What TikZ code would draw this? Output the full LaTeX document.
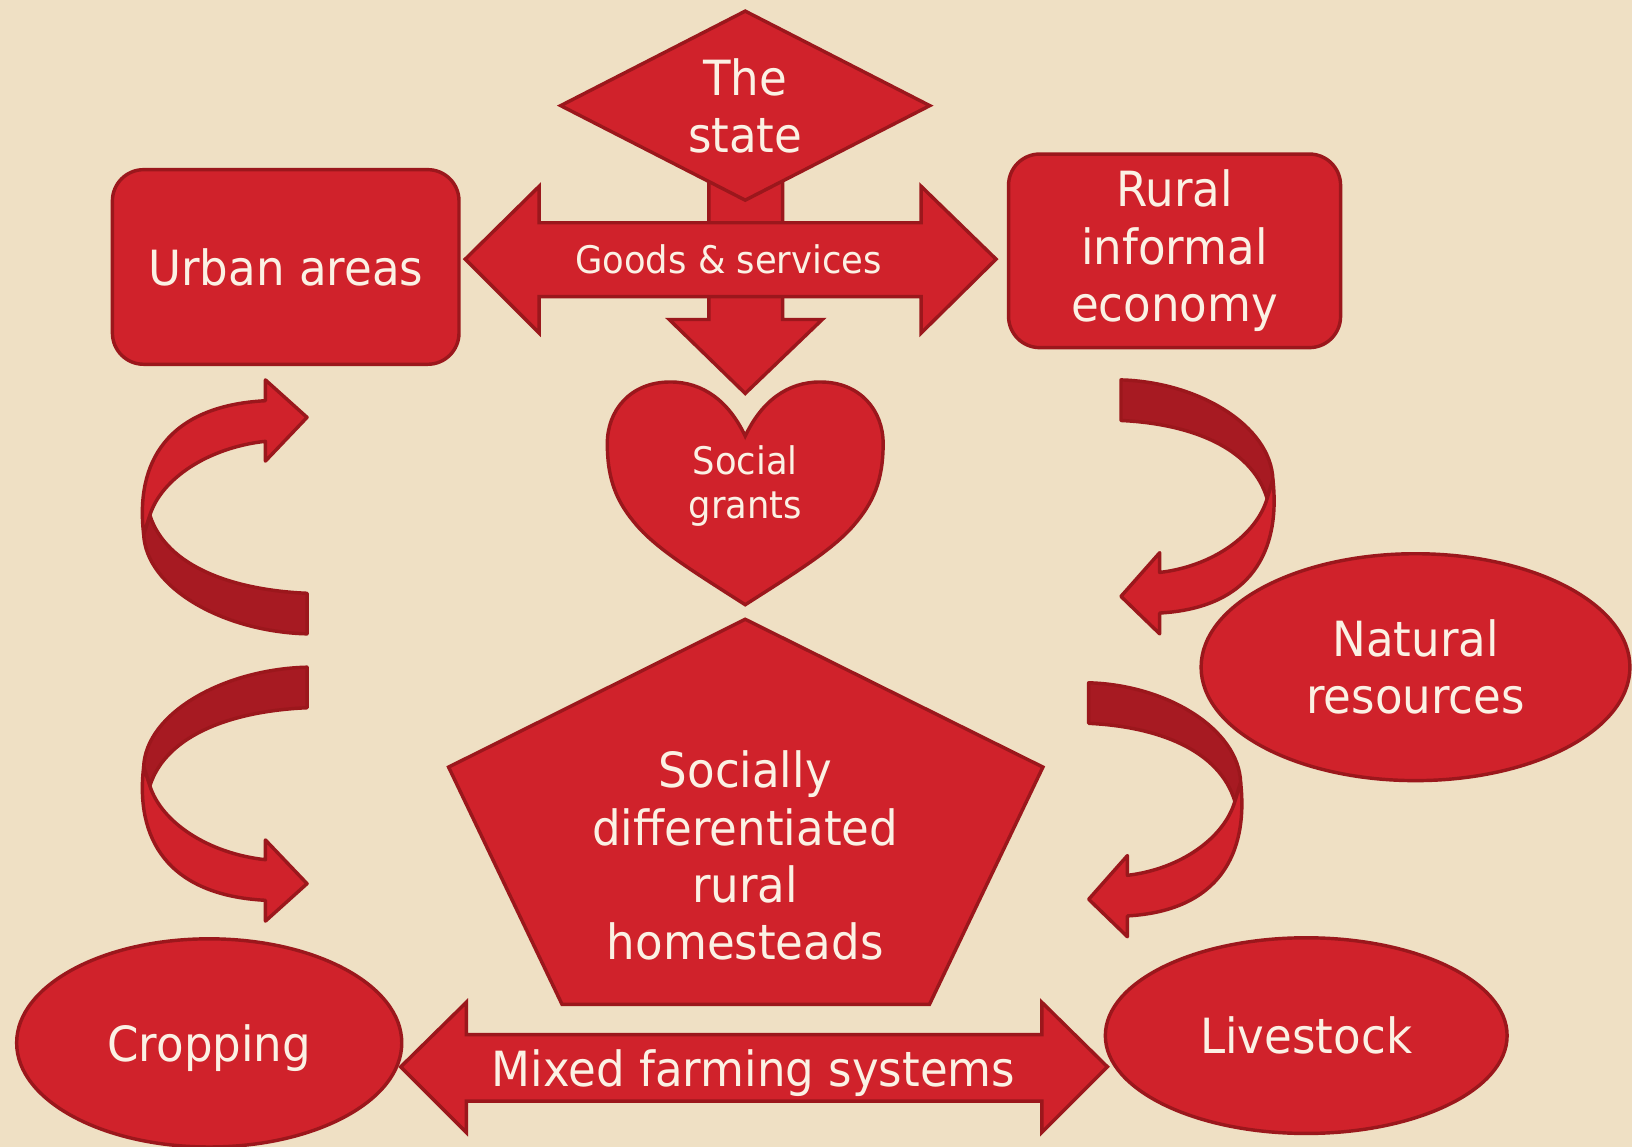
\documentclass[tikz,border=0pt]{standalone}
\usepackage{fontspec}
\setmainfont{DejaVu Sans}[FakeStretch=0.93]
\usepackage{tikz}
\usetikzlibrary{shapes.geometric}
\definecolor{paper}{RGB}{239,224,196}
\definecolor{boxred}{RGB}{208,34,43}
\definecolor{foldred}{RGB}{167,26,34}
\definecolor{edgered}{RGB}{155,23,28}
\definecolor{cream}{RGB}{251,241,228}
\newcommand{\bigtext}{\fontsize{46.6pt}{55pt}\selectfont}
\newcommand{\smalltext}{\fontsize{36.5pt}{42pt}\selectfont}
\tikzstyle{redshape}  = [draw=edgered, fill=boxred, line width=3.3pt]
\tikzstyle{foldband}  = [draw=edgered, fill=foldred, line width=3.3pt, line join=round]
\tikzstyle{blocktext} = [text=cream, font=\bigtext, align=center, inner sep=0pt]
\tikzstyle{roundbox}  = [redshape, blocktext, rectangle, rounded corners=30pt]
\tikzstyle{oval}      = [redshape, blocktext, ellipse]
\tikzstyle{statebox}  = [redshape, blocktext, diamond, aspect=1.95]
% twisted curved arrow, tail at the origin, head pointing back at the tail
\newcommand{\twistarrow}[1]{%
  \begin{scope}[#1]
    \draw[foldband] (0,0) .. controls (-80,2) and (-155,44) .. (-157,96) -- (-151,114)
      .. controls (-135,64) and (-70,42) .. (0,39) -- cycle;
    \draw[redshape, line join=round] (-157,96) .. controls (-165,164) and (-135,219) .. (-40,224)
      -- (-40,244) -- (0,208) -- (-40,166) -- (-40,185)
      .. controls (-95,179) and (-140,149) .. (-151,114) -- cycle;
  \end{scope}}

\begin{document}
\begin{tikzpicture}[x=1pt, y=-1pt]
            \useasboundingbox (0,0) rectangle (1568,1102);
            \fill[paper] (0,0) rectangle (1568,1102);

            % the state hands out goods and services
            \draw[redshape] (681,150) -- (752,150) -- (752,307) -- (790,307) -- (716,378) -- (643,307) -- (681,307) -- cycle;
            \draw[redshape] (447,249) -- (518,179) -- (518,214) -- (885,214) -- (885,179) -- (957,249)
                -- (885,320) -- (885,285) -- (518,285) -- (518,320) -- cycle;
            \node[blocktext, font=\smalltext] (goods) at (700,249) {Goods \& services};
            \node[statebox, minimum width=356pt, minimum height=183pt] (state) at (716,101.5) {The\\state};

            \node[roundbox, minimum width=333pt, minimum height=187pt] (urban) at (274.5,256.5) {Urban areas};
            \node[roundbox, minimum width=319pt, minimum height=186pt] (rural) at (1128.5,241) {Rural\\informal\\economy};

            % heart
            \draw[redshape] (716,419) .. controls (700,385) and (675,367) .. (644,367)
                .. controls (605,367) and (583.5,395) .. (583.5,426)
                .. controls (583.5,462) and (593,483) .. (612,505)
                .. controls (632,528) and (666,549) .. (716,581)
                .. controls (766,549) and (800,528) .. (820,505)
                .. controls (839,483) and (848.5,462) .. (848.5,426)
                .. controls (848.5,395) and (827,367) .. (788,367)
                .. controls (757,367) and (732,385) .. (716,419) -- cycle;
            \node[blocktext, font=\smalltext] (grants) at (716,467) {Social\\grants};

            % homesteads
            \draw[redshape] (716,595) -- (1002,737) -- (893,965) -- (540,965) -- (431,737) -- cycle;
            \node[blocktext] (homesteads) at (716,822) {Socially\\differentiated\\rural\\homesteads};

            \node[oval, minimum width=412pt, minimum height=218pt] (nature) at (1360,641) {Natural\\resources};
            \node[oval, minimum width=370pt, minimum height=200pt, text depth=0pt] (crop) at (201,1002) {Cropping};
            \node[oval, minimum width=386pt, minimum height=188pt] (stock) at (1255,995) {Livestock};

            \draw[redshape] (385,1025) -- (448,963) -- (448,994) -- (1001,994) -- (1001,963) -- (1064,1025)
                -- (1001,1088) -- (1001,1058) -- (448,1058) -- (448,1088) -- cycle;
            \node[blocktext] (mixed) at (724,1031) {Mixed farming systems};

            \twistarrow{shift={(295,609)}, yscale=-1}
            \twistarrow{shift={(295,641)}}
            \twistarrow{shift={(1077,365)}, xscale=-0.93}
            \twistarrow{shift={(1046,656)}, xscale=-0.93}
        \end{tikzpicture}
\end{document}
